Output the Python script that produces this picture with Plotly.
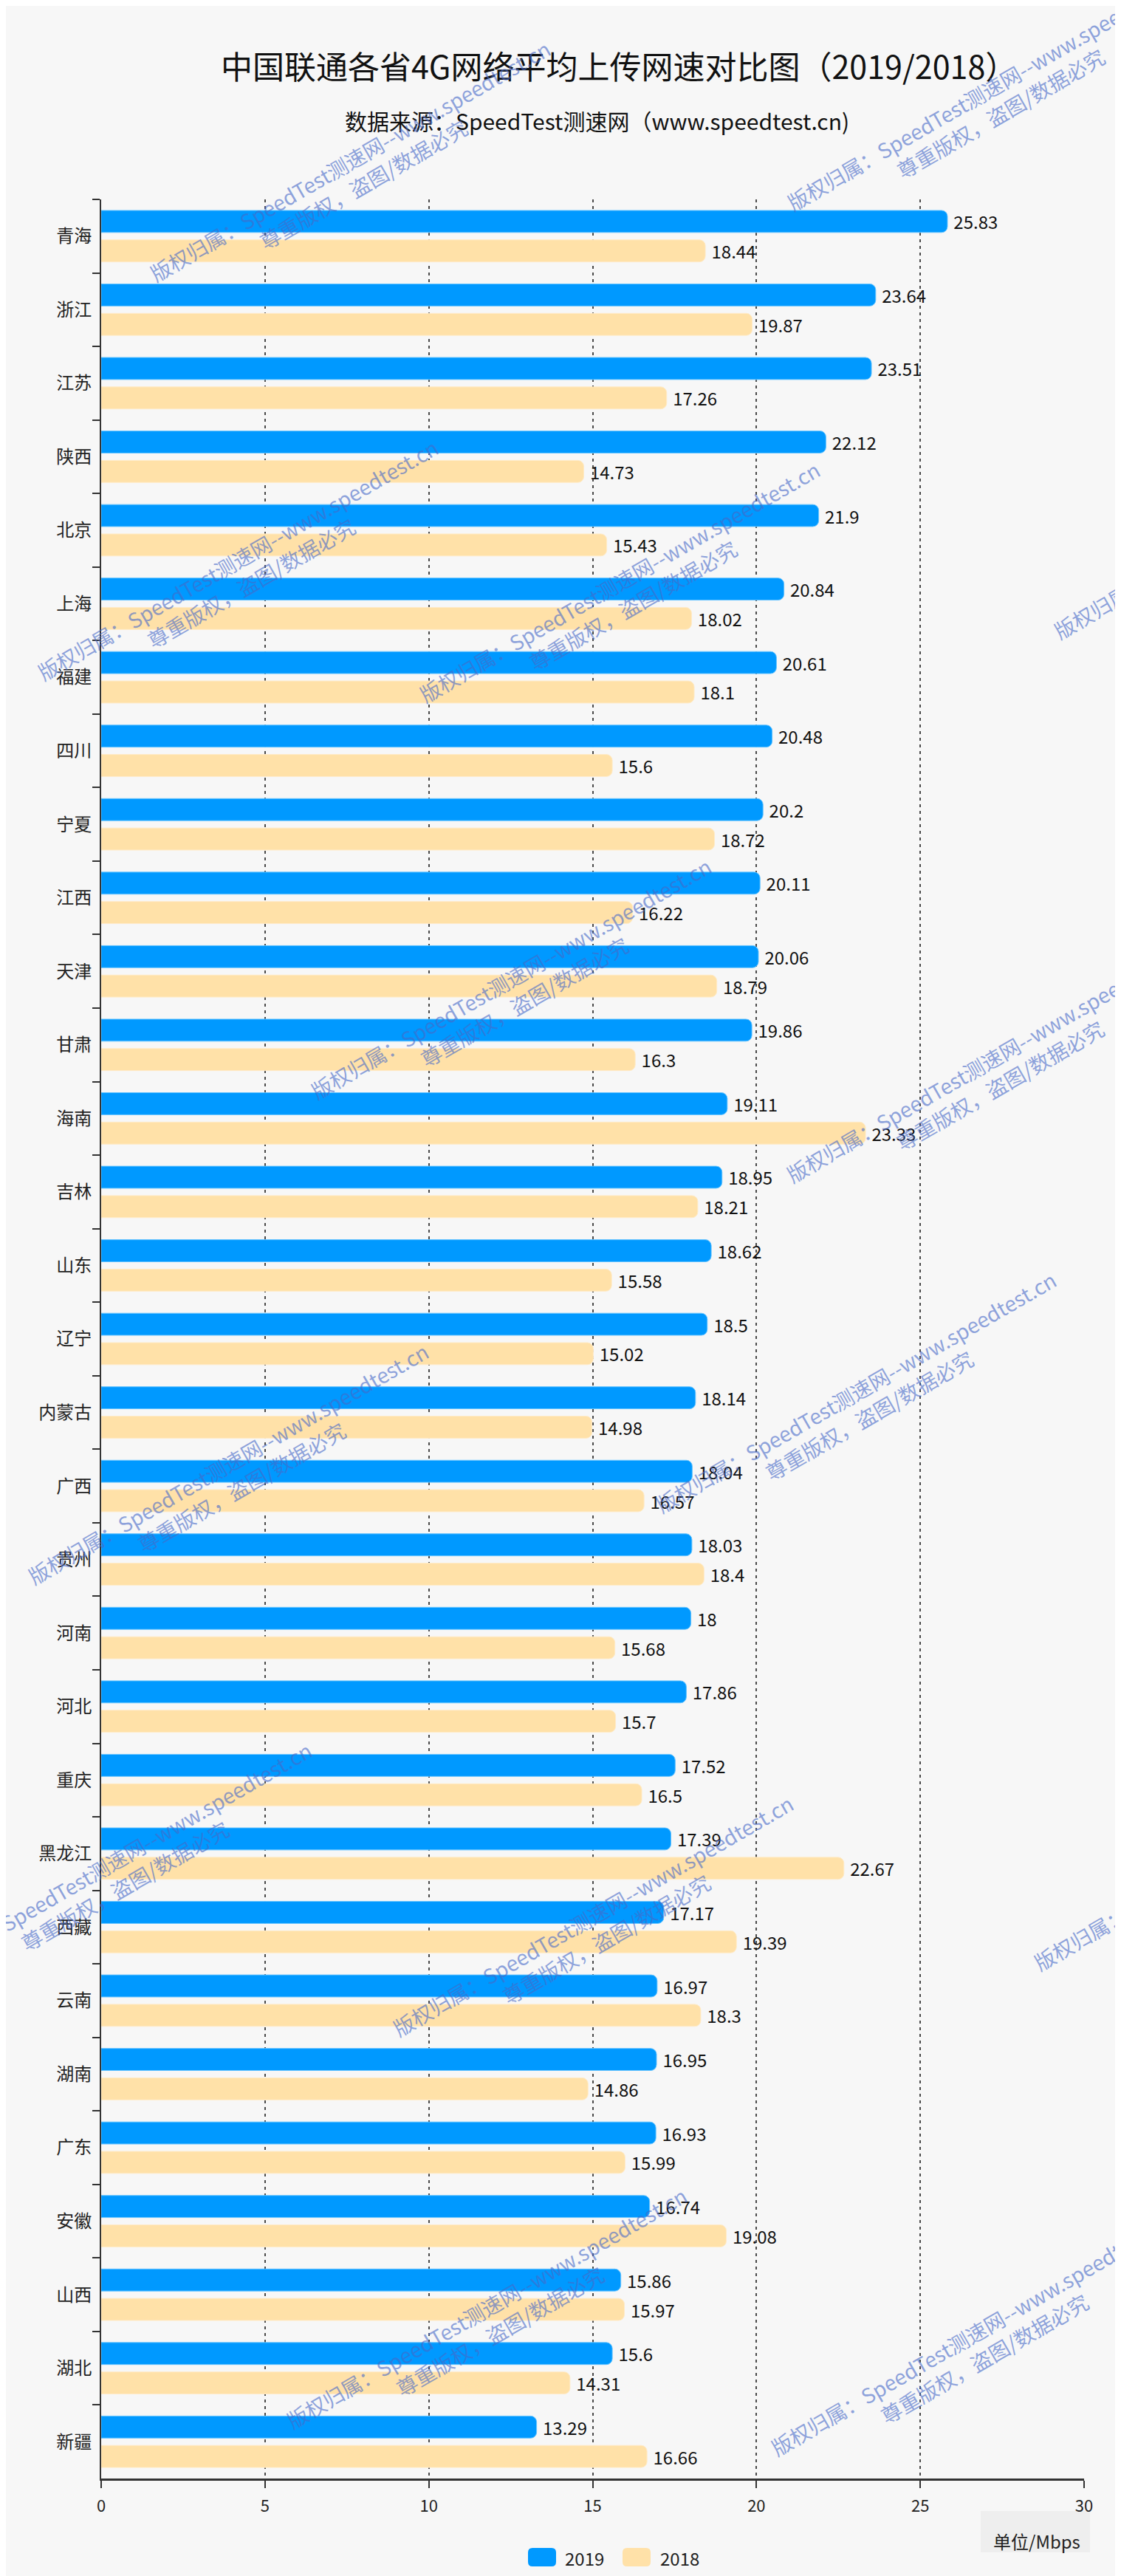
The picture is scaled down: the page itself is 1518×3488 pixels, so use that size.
import plotly.graph_objects as go

# ---------------- data ----------------
provinces = ["青海", "浙江", "江苏", "陕西", "北京", "上海", "福建", "四川", "宁夏", "江西",
             "天津", "甘肃", "海南", "吉林", "山东", "辽宁", "内蒙古", "广西", "贵州", "河南",
             "河北", "重庆", "黑龙江", "西藏", "云南", "湖南", "广东", "安徽", "山西", "湖北", "新疆"]
speed_2019 = [25.83, 23.64, 23.51, 22.12, 21.9, 20.84, 20.61, 20.48, 20.2, 20.11,
              20.06, 19.86, 19.11, 18.95, 18.62, 18.5, 18.14, 18.04, 18.03, 18,
              17.86, 17.52, 17.39, 17.17, 16.97, 16.95, 16.93, 16.74, 15.86, 15.6, 13.29]
speed_2018 = [18.44, 19.87, 17.26, 14.73, 15.43, 18.02, 18.1, 15.6, 18.72, 16.22,
              18.79, 16.3, 23.33, 18.21, 15.58, 15.02, 14.98, 16.57, 18.4, 15.68,
              15.7, 16.5, 22.67, 19.39, 18.3, 14.86, 15.99, 19.08, 15.97, 14.31, 16.66]
x_ticks = [0, 5, 10, 15, 20, 25, 30]
series_names = ["2019", "2018"]

title_text = "中国联通各省4G网络平均上传网速对比图（2019/2018）"
subtitle_text = "数据来源：SpeedTest测速网（www.speedtest.cn)"
unit_text = "单位/Mbps"
wm_text = "版权归属：SpeedTest测速网--www.speedtest.cn<br>尊重版权，盗图/数据必究"

# ---------------- layout geometry ----------------
W, H = 1518, 3488
L, R, T, B = 129, 58, 262, 140
PW, PH = W - L - R, H - T - B


def px(x):
    return (x - L) / PW


def py(y):
    return (H - B - y) / PH


FONT = "Noto Sans CJK SC"
BLUE = "#0099FF"
PEACH = "#FFE1A8"
BG = "#F7F7F7"

fig = go.Figure()
colors = [BLUE, PEACH]
lines = ["#66C4FF", "#FFEBC8"]
for name, vals, c, lc in zip(series_names, [speed_2019, speed_2018], colors, lines):
    fig.add_trace(go.Bar(
        y=provinces, x=vals, orientation="h", name=name,
        marker=dict(color=c, line=dict(color=lc, width=1), cornerradius=8),
        texttemplate=" %{x}", textposition="outside", constraintext="none",
        textfont=dict(family=FONT, size=24, color="#111111"),
        cliponaxis=False, showlegend=False,
    ))

fig.update_layout(
    width=W, height=H, autosize=False,
    margin=dict(l=L, r=R, t=T, b=B, pad=0),
    paper_bgcolor=BG, plot_bgcolor=BG,
    barmode="group", bargap=0.2, bargroupgap=0.25,
    font=dict(family=FONT, color="#222222"),
    showlegend=False,
)

fig.update_yaxes(
    type="category", autorange="reversed",
    showline=True, linecolor="#333333", linewidth=2,
    ticks="outside", ticklen=10, tickwidth=2, tickcolor="#333333",
    tickson="boundaries", showgrid=False, zeroline=False,
    tickfont=dict(family=FONT, size=24, color="#222222"),
    ticklabelstandoff=6,
)
fig.update_xaxes(
    range=[0, 30], tickmode="array", tickvals=x_ticks,
    showgrid=True, gridcolor="#4A4A4A", gridwidth=1.5, griddash="4px,5px",
    showline=True, linecolor="#333333", linewidth=3,
    ticks="outside", ticklen=10, tickwidth=1.5, tickcolor="#333333",
    zeroline=False, tickfont=dict(family=FONT, size=22, color="#222222"),
    ticklabelstandoff=6,
)

annotations = []
# titles
annotations.append(dict(text=title_text, x=px(830), y=py(80), xref="paper", yref="paper",
                        xanchor="center", yanchor="middle", showarrow=False,
                        font=dict(family=FONT, size=43, color="#111111")))
annotations.append(dict(text=subtitle_text, x=px(800), y=py(155), xref="paper", yref="paper",
                        xanchor="center", yanchor="middle", showarrow=False,
                        font=dict(family=FONT, size=30, color="#111111")))
# unit label
annotations.append(dict(text=unit_text, x=px(1396), y=py(3432), xref="paper", yref="paper",
                        xanchor="center", yanchor="middle", showarrow=False,
                        font=dict(family=FONT, size=24, color="#222222")))
# legend labels
for name, lx in zip(series_names, [755, 884]):
    annotations.append(dict(text=name, x=px(lx), y=py(3455), xref="paper", yref="paper",
                            xanchor="left", yanchor="middle", showarrow=False,
                            font=dict(family=FONT, size=24, color="#222222")))

# watermarks (anchor = bottom-left of first glyph, shifted to block centre)
wm_starts = [(205, 373), (1068, 277), (53, 913), (570, 943), (1429, 857), (423, 1480),
             (1067, 1593), (40, 2137), (890, 2040), (-118, 2677), (534, 2749), (1402, 2660),
             (390, 3280), (1046, 3317)]
for sx, sy in wm_starts:
    cx, cy = sx + 270, sy - 148
    annotations.append(dict(text=wm_text, x=px(cx), y=py(cy), xref="paper", yref="paper",
                            xanchor="center", yanchor="middle", showarrow=False,
                            textangle=-30, align="center",
                            font=dict(family=FONT, size=28, color="rgba(70,105,200,0.6)")))

fig.update_layout(annotations=annotations)

# unit box + legend swatches
shapes = [dict(type="rect", xref="paper", yref="paper",
               x0=px(1320), x1=px(1468), y0=py(3448), y1=py(3392),
               fillcolor="#EEEEEE", line=dict(width=0), layer="below")]
rr = ("M -13,-12.5 L 13,-12.5 Q 19,-12.5 19,-6.5 L 19,6.5 Q 19,12.5 13,12.5 "
      "L -13,12.5 Q -19,12.5 -19,6.5 L -19,-6.5 Q -19,-12.5 -13,-12.5 Z")
for c, cxp in zip(colors, [726, 854]):
    shapes.append(dict(type="path", path=rr, xref="paper", yref="paper",
                       xsizemode="pixel", ysizemode="pixel",
                       xanchor=px(cxp), yanchor=py(3454.5),
                       fillcolor=c, line=dict(width=0)))
fig.update_layout(shapes=shapes)

fig.write_html("out.html")
